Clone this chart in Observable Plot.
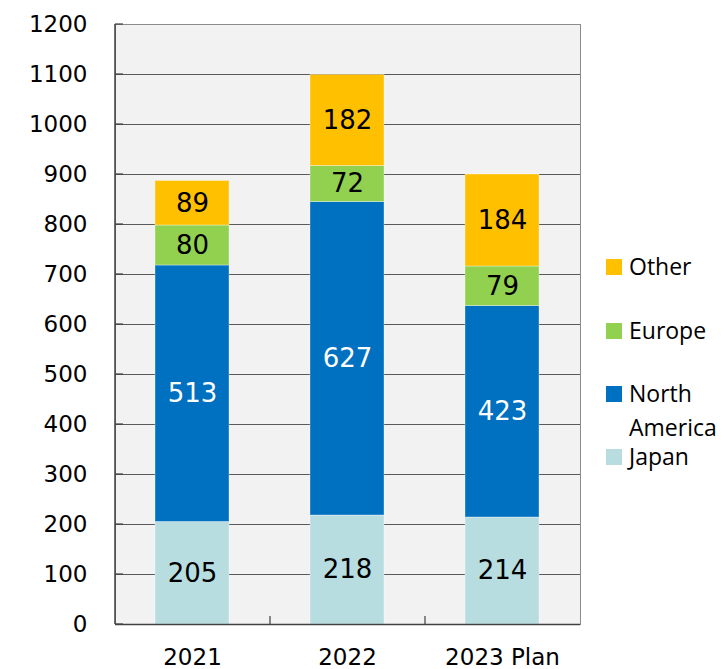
<!DOCTYPE html>
<html>
<head>
<meta charset="utf-8">
<script src="https://cdn.jsdelivr.net/npm/d3@7"></script>
<script src="https://cdn.jsdelivr.net/npm/@observablehq/plot@0.6"></script>
<style>
  html, body { margin: 0; padding: 0; background: #ffffff; }
  #chart { position: relative; width: 724px; height: 669px; }
</style>
</head>
<body>
<div id="chart"></div>
<script>
// ---- Data ----
const years = ["2021", "2022", "2023 Plan"];
const regions = ["Japan", "North America", "Europe", "Other"];
const japan = [205, 218, 214];
const northAmerica = [513, 627, 423];
const europe = [80, 72, 79];
const other = [89, 182, 184];
const colors = ["#b7dde1", "#0070c0", "#92d050", "#ffc000"];
const yTicks = [0, 100, 200, 300, 400, 500, 600, 700, 800, 900, 1000, 1100, 1200];
const legendOrder = ["Other", "Europe", "North America", "Japan"];
const legendLines = {"Other": ["Other"], "Europe": ["Europe"], "North America": ["North", "America"], "Japan": ["Japan"]};

const series = {"Japan": japan, "North America": northAmerica, "Europe": europe, "Other": other};
const data = [];
regions.forEach(r => years.forEach((y, i) => data.push({year: y, region: r, value: series[r][i]})));

// ---- Layout ----
const W = 724, H = 669;
const mL = 115, mR = 144, mT = 24, mB = 45;

const chart = Plot.plot({
  width: W, height: H,
  marginLeft: mL, marginRight: mR, marginTop: mT, marginBottom: mB,
  style: {fontFamily: "DejaVu Sans", fontSize: "23px", color: "#000", background: "transparent"},
  x: {domain: years, paddingInner: 0.52, paddingOuter: 0.26, label: null},
  y: {domain: [0, 1200], label: null},
  color: {domain: regions, range: colors},
  marks: [
    Plot.frame({fill: "#f2f2f2", stroke: "#8c8c8c"}),
    Plot.ruleY(yTicks.slice(1, -1), {stroke: "#595959", strokeWidth: 1}),
    Plot.barY(data, Plot.stackY({x: "year", y: "value", fill: "region", order: regions, stroke: "#ffffff", strokeOpacity: 0.35, strokeWidth: 1})),
    Plot.text(data, Plot.stackY({
      x: "year", y: "value", z: "region", order: regions, text: "value",
      fill: d => d.region === "North America" ? "#ffffff" : "#000000",
      fontSize: 26, fontFamily: "DejaVu Sans"
    })),
    Plot.axisY({ticks: yTicks, tickSize: 0, tickPadding: 28, tickFormat: d => String(d), fontSize: 23, label: null}),
    Plot.axisX({tickSize: 0, tickPadding: 24, fontSize: 23, label: null}),
    Plot.ruleY([0], {stroke: "#404040", strokeWidth: 1.5})
  ]
});

document.getElementById("chart").appendChild(chart);

// ---- Decorations: left axis line, category boundary ticks, legend ----
const svg = d3.select(chart);
const x0 = mL, x1 = W - mR, yb = H - mB, yt = mT;
const step = (x1 - x0) / years.length;
const deco = svg.append("g");
deco.append("line").attr("x1", x0).attr("x2", x0).attr("y1", yt).attr("y2", yb)
  .attr("stroke", "#404040").attr("stroke-width", 1.5);
yTicks.forEach((t, i) => {
  const yy = yb - (yb - yt) * t / 1200;
  deco.append("line").attr("x1", x0).attr("x2", x0 + 8).attr("y1", yy).attr("y2", yy)
    .attr("stroke", "#404040").attr("stroke-width", 1.2);
});
for (let i = 1; i < years.length; i++) {
  const xx = x0 + step * i;
  deco.append("line").attr("x1", xx).attr("x2", xx).attr("y1", yb).attr("y2", yb - 8)
    .attr("stroke", "#404040").attr("stroke-width", 1.2);
}

const legendY = {"Other": 267, "Europe": 331, "North America": 394, "Japan": 457};
const lg = svg.append("g").attr("font-family", "Open Sans").attr("font-size", 23).attr("text-anchor", "start");
legendOrder.forEach(r => {
  const cy = legendY[r];
  lg.append("rect").attr("x", 606).attr("y", cy - 8).attr("width", 16).attr("height", 16)
    .attr("fill", colors[regions.indexOf(r)]);
  legendLines[r].forEach((line, j) => {
    lg.append("text").attr("x", 629).attr("y", cy + j * 34).attr("dy", "0.35em")
      .attr("fill", "#000").text(line);
  });
});
</script>
</body>
</html>
